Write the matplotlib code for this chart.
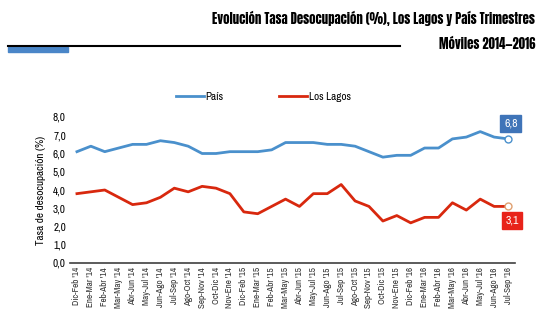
import matplotlib
matplotlib.use('Agg')
from matplotlib import pyplot as plt
from matplotlib.patches import Rectangle
from matplotlib.lines import Line2D

periodos = ["Dic-Feb '14", "Ene-Mar '14", "Feb-Abr '14", "Mar-May '14", "Abr-Jun '14",
            "May-Jul '14", "Jun-Ago '14", "Jul-Sep '14", "Ago-Oct '14", "Sep-Nov '14",
            "Oct-Dic '14", "Nov-Ene '14", "Dic-Feb '15", "Ene-Mar '15", "Feb-Abr '15",
            "Mar-May '15", "Abr-Jun '15", "May-Jul '15", "Jun-Ago '15", "Jul-Sep '15",
            "Ago-Oct '15", "Sep-Nov '15", "Oct-Dic '15", "Nov-Ene '15", "Dic-Feb '16",
            "Ene-Mar '16", "Feb-Abr '16", "Mar-May '16", "Abr-Jun '16", "May-Jul '16",
            "Jun-Ago '16", "Jul-Sep '16"]

pais = [6.1, 6.4, 6.1, 6.3, 6.5, 6.5, 6.7, 6.6, 6.4, 6.0, 6.0, 6.1, 6.1, 6.1, 6.2,
        6.6, 6.6, 6.6, 6.5, 6.5, 6.4, 6.1, 5.8, 5.9, 5.9, 6.3, 6.3, 6.8, 6.9, 7.2,
        6.9, 6.8]

los_lagos = [3.8, 3.9, 4.0, 3.6, 3.2, 3.3, 3.6, 4.1, 3.9, 4.2, 4.1, 3.8, 2.8, 2.7, 3.1,
             3.5, 3.1, 3.8, 3.8, 4.3, 3.4, 3.1, 2.3, 2.6, 2.2, 2.5, 2.5, 3.3, 2.9, 3.5,
             3.1, 3.1]

azul = '#4a90cc'
rojo = '#d8280e'
angosta = ['Liberation Sans Narrow', 'Archivo Narrow', 'PT Sans Narrow', 'DejaVu Sans']
titular = ['Anton', 'Oswald', 'Fjalla One', 'Liberation Sans Narrow', 'DejaVu Sans']
plt.rcParams['font.family'] = angosta

fig = plt.figure(figsize=(5.38, 3.35), dpi=100)
ax = fig.add_axes([70 / 538, 1 - 263 / 335, 445 / 538, 146 / 335])

x = list(range(len(periodos)))
ax.plot(x, pais, color=azul, linewidth=2, label='País')
ax.plot(x, los_lagos, color=rojo, linewidth=2, label='Los Lagos')
ax.plot(x[-1], pais[-1], 'o', color='white', markeredgecolor=azul, markersize=5)
ax.plot(x[-1], los_lagos[-1], 'o', color='white', markeredgecolor='#e0a070', markersize=5)

ax.annotate(f"{pais[-1]:.1f}".replace('.', ','), (x[-1], pais[-1]), xytext=(2, 11),
            textcoords='offset points', ha='center', va='center', color='white', fontsize=8.5,
            bbox=dict(boxstyle='square,pad=0.3', fc='#3f74b8', ec='#3f74b8'))
ax.annotate(f"{los_lagos[-1]:.1f}".replace('.', ','), (x[-1], los_lagos[-1]), xytext=(3, -10),
            textcoords='offset points', ha='center', va='center', color='white', fontsize=8.5,
            bbox=dict(boxstyle='square,pad=0.3', fc='#e8231a', ec='#e8231a'))

ax.set_xlim(-0.5, len(periodos) - 0.5)
ax.set_ylim(0, 8)
ax.set_yticks(range(0, 9))
ax.set_yticklabels([f"{v:.1f}".replace('.', ',') for v in range(0, 9)], fontsize=8)
ax.set_xticks(x)
ax.set_xticklabels(periodos, rotation=90, fontsize=6.5, color='#333333')
ax.tick_params(axis='both', length=0, pad=3)
ax.set_ylabel('Tasa de desocupación (%)', fontsize=8, labelpad=5)
for lado in ['top', 'right', 'left']:
    ax.spines[lado].set_visible(False)
ax.spines['bottom'].set_color('#404040')
ax.spines['bottom'].set_linewidth(1.2)

ax.legend(loc='center', bbox_to_anchor=(0.435, 1.137), ncol=2, frameon=False,
          fontsize=8, columnspacing=5, handlelength=2.5, handletextpad=0.2)

# encabezado
fig.text(535 / 538, 1 - 18 / 335, 'Evolución Tasa Desocupación (%), Los Lagos y País Trimestres',
         ha='right', va='center', fontsize=9.2, family=titular)
fig.text(535 / 538, 1 - 44 / 335, 'Móviles 2014—2016', ha='right', va='center',
         fontsize=9.2, family=titular)
fig.add_artist(Line2D([8 / 538, 400 / 538], [1 - 46 / 335, 1 - 46 / 335],
                      color='black', linewidth=1.5, transform=fig.transFigure))
fig.add_artist(Rectangle((8 / 538, 1 - 52 / 335), 60 / 538, 5 / 335, color='#4a86c8',
                         transform=fig.transFigure))

fig.savefig('out.png', dpi=100)
